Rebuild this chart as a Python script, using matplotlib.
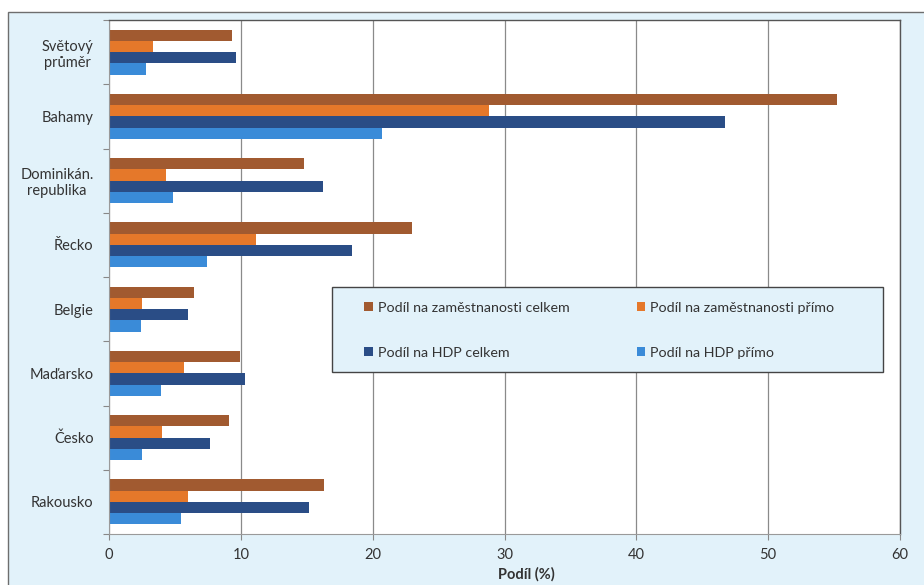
import numpy as np
import matplotlib
matplotlib.use("Agg")
import matplotlib.pyplot as plt
from matplotlib.patches import Rectangle

plt.rcParams['font.family'] = ['Lato', 'DejaVu Sans']

countries = ["Světový\nprůměr", "Bahamy", "Dominikán.\nrepublika", "Řecko",
             "Belgie", "Maďarsko", "Česko", "Rakousko"]
series_names = ["Podíl na zaměstnanosti celkem", "Podíl na zaměstnanosti přímo",
                "Podíl na HDP celkem", "Podíl na HDP přímo"]
employment_total = [9.3, 55.2, 14.8, 23.0, 6.45, 9.95, 9.1, 16.3]
employment_direct = [3.35, 28.8, 4.3, 11.15, 2.5, 5.7, 4.0, 6.0]
gdp_total = [9.6, 46.7, 16.2, 18.4, 6.0, 10.3, 7.65, 15.2]
gdp_direct = [2.8, 20.7, 4.85, 7.45, 2.4, 3.95, 2.5, 5.45]
xticks = [0, 10, 20, 30, 40, 50, 60]

colors = ["#A15A30", "#E5782A", "#2A4D86", "#3A8BD8"]
bg = "#E2F2FA"

fig = plt.figure(figsize=(9.24, 5.85), dpi=100)
fig.patch.set_facecolor("white")
W, H = 924, 585
frame = Rectangle((8 / W, -0.05), 1.0, 1 - 12 / H + 0.05, transform=fig.transFigure,
                  facecolor=bg, edgecolor="#6E6E6E", linewidth=1.0, zorder=-5)
fig.add_artist(frame)

left, right, top, bottom = 109, 900, 20, 534
ax = fig.add_axes([left / W, 1 - bottom / H, (right - left) / W, (bottom - top) / H])
ax.set_zorder(1)
ax.set_facecolor("white")

n = len(countries)
values = [employment_total, employment_direct, gdp_total, gdp_direct]
group_h = 0.7
bar_h = group_h / 4
centers = np.arange(n)
bars = []
for i, (vals, c, name) in enumerate(zip(values, colors, series_names)):
    y = centers - group_h / 2 + bar_h * (i + 0.5)
    bars.append(ax.barh(y, vals, height=bar_h, color=c, label=name, zorder=2))

ax.set_ylim(n - 0.5, -0.5)
ax.set_xlim(0, 60)
ax.set_xticks(xticks)
ax.set_xticklabels([str(t) for t in xticks], fontsize=10.5, color="#333333")
ax.tick_params(axis="x", length=4, color="#888888", pad=6)

ax.set_yticks(np.arange(n + 1) - 0.5)
ax.set_yticklabels([])
ax.set_yticks(centers, minor=True)
ax.set_yticklabels(countries, minor=True, fontsize=10.5, color="#333333",
                   multialignment="center")
ax.tick_params(axis="y", which="major", length=4, color="#888888")
ax.tick_params(axis="y", which="minor", length=0, pad=11)

ax.grid(axis="x", color="#8A8A8A", linewidth=0.9, zorder=1)
ax.set_axisbelow(True)
for s in ["left", "bottom"]:
    ax.spines[s].set_color("#9A9A9A")
for s in ["right", "top"]:
    ax.spines[s].set_color("#555555")
    ax.spines[s].set_linewidth(1.0)

ax.set_xlabel("Podíl (%)", fontsize=10.5, fontweight="bold", color="#333333")
ax.xaxis.set_label_coords(0.528, -0.065)

# legend box drawn separately so its size can be set freely
def px_x(p):
    return (p - left) / (right - left)

def px_y(p):
    return (bottom - p) / (bottom - top)

box = Rectangle((px_x(332), px_y(372)), px_x(883) - px_x(332), px_y(287) - px_y(372),
                transform=ax.transAxes, facecolor=bg, edgecolor="#444444",
                linewidth=1.0, zorder=4, clip_on=False)
ax.add_patch(box)

order = [0, 2, 1, 3]  # row-wise: celkem/přímo side by side
leg = ax.legend([bars[i] for i in order], [series_names[i] for i in order],
                loc="upper left", bbox_to_anchor=(px_x(364), px_y(302)),
                ncol=2, fontsize=10.3, frameon=False,
                handlelength=0.6, handleheight=0.6, handletextpad=0.35,
                columnspacing=4.7, labelspacing=2.3, borderpad=0,
                borderaxespad=0)
leg.set_zorder(5)
for t in leg.get_texts():
    t.set_color("#333333")

fig.savefig("out.png", dpi=100)
